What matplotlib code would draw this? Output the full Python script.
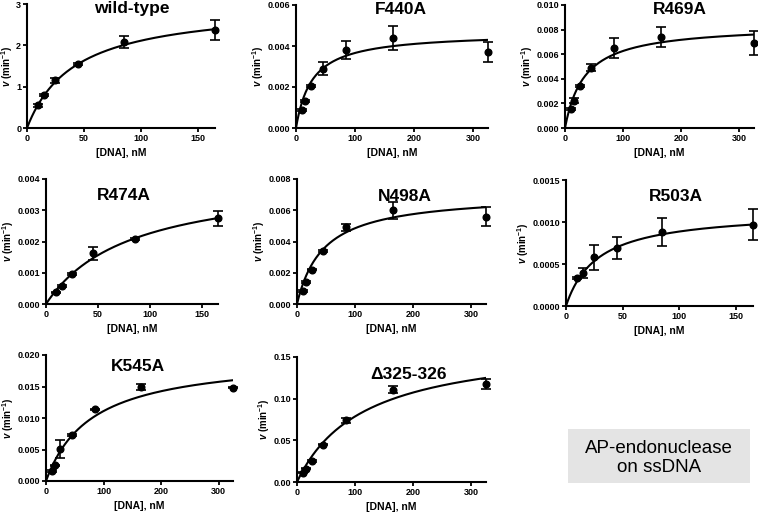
import numpy as np
import matplotlib
matplotlib.use("Agg")
import matplotlib.pyplot as plt
from matplotlib.ticker import FormatStrFormatter

plt.rcParams['font.family'] = ['Liberation Sans', 'DejaVu Sans']
plt.rcParams['mathtext.fontset'] = 'custom'
plt.rcParams['mathtext.rm'] = 'Liberation Sans:bold'
plt.rcParams['mathtext.it'] = 'Liberation Sans:italic:bold'
plt.rcParams['mathtext.bf'] = 'Liberation Sans:bold'

# ---- data ----
conc_short = [10, 15, 25, 45, 85, 165]
conc_long = [10, 15, 25, 45, 85, 165, 325]

wt_v = [0.55, 0.80, 1.15, 1.55, 2.08, 2.37]
wt_err = [0.03, 0.03, 0.07, 0.02, 0.15, 0.25]
wt_fit = (3.0, 42.0)

f440_v = [0.0009, 0.0013, 0.00205, 0.0029, 0.0038, 0.0044, 0.0037]
f440_err = [0.00005, 0.00005, 0.00005, 0.0003, 0.00045, 0.0006, 0.00048]
f440_fit = (0.00466, 27.3)

r469_v = [0.00155, 0.0022, 0.0034, 0.0049, 0.0065, 0.0074, 0.0069]
r469_err = [0.0001, 0.0002, 0.0001, 0.0003, 0.0008, 0.0008, 0.001]
r469_fit = (0.00839, 33.9)

r474_v = [0.00037, 0.00057, 0.00097, 0.00162, 0.00207, 0.00274]
r474_err = [0.00003, 0.00004, 0.00003, 0.0002, 0.00003, 0.00024]
r474_fit = (0.0041, 81.0)

n498_v = [0.00085, 0.0014, 0.0022, 0.0034, 0.0049, 0.0060, 0.0056]
n498_err = [0.00005, 0.00005, 0.00005, 0.00005, 0.0002, 0.00055, 0.0006]
n498_fit = (0.00707, 45.7)

r503_v = [0.00033, 0.00039, 0.00058, 0.00069, 0.00088, 0.00097]
r503_err = [0.00001, 0.00006, 0.00015, 0.00013, 0.00017, 0.00018]
r503_fit = (0.001134, 27.9)

k545_v = [0.0016, 0.0025, 0.0051, 0.0073, 0.0114, 0.0149, 0.0148]
k545_err = [0.0001, 0.0001, 0.0014, 0.0001, 0.0001, 0.0005, 0.0001]
k545_fit = (0.0199, 79.3)

d325_v = [0.011, 0.016, 0.025, 0.045, 0.074, 0.111, 0.118]
d325_err = [0.0005, 0.0005, 0.001, 0.001, 0.003, 0.004, 0.006]
d325_fit = (0.169, 114.6)

panels = [
    # name, x, v, err, fit, xmax, xticks, yticks, yfmt,
    # rect (px: left,right,top,bottom), title pos (axes frac)
    ("wild-type", conc_short, wt_v, wt_err, wt_fit, 165, [0, 50, 100, 150], [0, 1, 2, 3], "%d",
     (27, 215, 4, 128), (0.56, 0.965)),
    ("F440A", conc_long, f440_v, f440_err, f440_fit, 325, [0, 100, 200, 300], [0, 0.002, 0.004, 0.006], "%.3f",
     (296, 488, 5, 128), (0.545, 0.965)),
    ("R469A", conc_long, r469_v, r469_err, r469_fit, 325, [0, 100, 200, 300],
     [0, 0.002, 0.004, 0.006, 0.008, 0.010], "%.3f", (565, 754, 5, 128), (0.61, 0.965)),
    ("R474A", conc_short, r474_v, r474_err, r474_fit, 165, [0, 50, 100, 150],
     [0, 0.001, 0.002, 0.003, 0.004], "%.3f", (46, 218, 179, 304), (0.45, 0.87)),
    ("N498A", conc_long, n498_v, n498_err, n498_fit, 325, [0, 100, 200, 300],
     [0, 0.002, 0.004, 0.006, 0.008], "%.3f", (297, 486, 179, 304), (0.57, 0.86)),
    ("R503A", conc_short, r503_v, r503_err, r503_fit, 165, [0, 50, 100, 150],
     [0, 0.0005, 0.0010, 0.0015], "%.4f", (566, 753, 180, 306), (0.59, 0.87)),
    ("K545A", conc_long, k545_v, k545_err, k545_fit, 325, [0, 100, 200, 300],
     [0, 0.005, 0.010, 0.015, 0.020], "%.3f", (46, 233, 355, 481), (0.49, 0.91)),
    ("\u0394325-326", conc_long, d325_v, d325_err, d325_fit, 325, [0, 100, 200, 300],
     [0, 0.05, 0.10, 0.15], "%.2f", (297, 486, 357, 482), (0.59, 0.86)),
]

W, H = 758, 514
fig = plt.figure(figsize=(W / 100, H / 100), dpi=100)

for name, xs, vs, errs, fit, xmax, xt, yt, yfmt, rect, tpos in panels:
    l, r, t, b = rect
    ax = fig.add_axes([l / W, 1 - b / H, (r - l) / W, (b - t) / H])
    vmax, km = fit
    xx = np.linspace(0, xmax, 300)
    ax.plot(xx, vmax * xx / (km + xx), color='black', lw=1.5, zorder=2)
    ax.errorbar(xs, vs, yerr=errs, fmt='o', color='black', ms=4.8, elinewidth=1.2,
                capsize=3.5, capthick=1.2, zorder=3, clip_on=False)
    ax.set_xlim(0, xmax)
    ax.set_ylim(0, yt[-1])
    ax.set_xticks(xt)
    ax.set_yticks(yt)
    ax.yaxis.set_major_formatter(FormatStrFormatter(yfmt))
    for s in ['top', 'right']:
        ax.spines[s].set_visible(False)
    for s in ['left', 'bottom']:
        ax.spines[s].set_linewidth(1.5)
    ax.tick_params(axis='both', direction='out', length=3, width=1.3, labelsize=6.5, pad=1.2)
    for lab in ax.get_xticklabels() + ax.get_yticklabels():
        lab.set_fontweight('bold')
    ax.set_xlabel('[DNA], nM', fontsize=7.5, labelpad=4, fontweight='bold')
    ax.set_ylabel(r'$\mathit{v}$ (min$^{-1}$)', fontsize=7, fontweight='bold', labelpad=1)
    ax.text(tpos[0], tpos[1], name, transform=ax.transAxes, ha='center', va='center',
            fontsize=12.5, fontweight='bold')

# annotation box
fig.patches.append(matplotlib.patches.Rectangle((568 / W, 1 - 483 / H), (750 - 568) / W, (483 - 429) / H,
                                                transform=fig.transFigure, facecolor='#e4e4e4',
                                                edgecolor='none', zorder=0))
fig.text((568 + 750) / 2 / W, 1 - 458 / H, 'AP-endonuclease\non ssDNA', ha='center', va='center',
         fontsize=13.5, linespacing=1.1)

fig.savefig('out.png', dpi=100)
